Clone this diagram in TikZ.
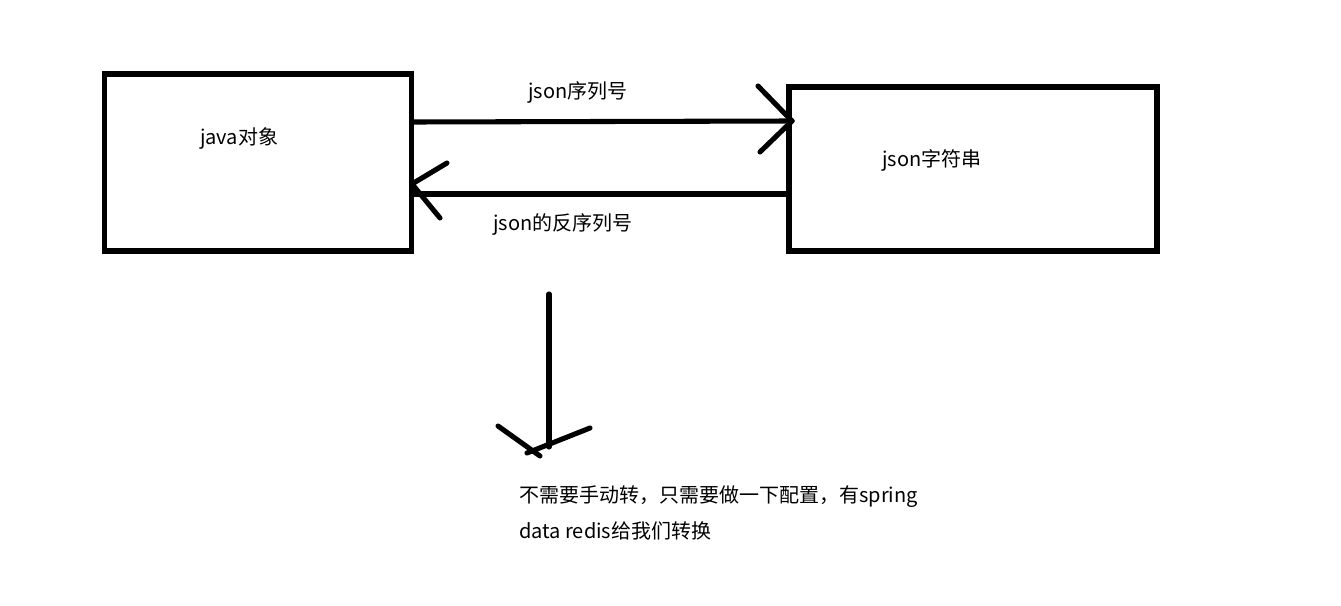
\documentclass[tikz,border=0pt]{standalone}
\usepackage{fontspec}
\setmainfont{Noto Sans CJK SC}
\usetikzlibrary{positioning, calc}

\begin{document}
\begin{tikzpicture}[
    x=0.75pt, y=-0.75pt,
    every node/.style={font=\fontsize{15}{22}\selectfont, inner sep=0pt},
    box/.style={draw, line width=3.8pt, minimum width=307pt*0.75, minimum height=177pt*0.75},
    stroke/.style={line width=3.8pt, line cap=round}
]
    \useasboundingbox (0,0) rectangle (1341,606);

    % Boxes
    \node[box] (obj) at (258,162.5) {};
    \node[box, minimum width=368pt*0.75, minimum height=164pt*0.75] (str) at (973,169) {};
    \node (objlabel) at (239,138) {java对象};
    \node (strlabel) at (932,160) {json字符串};

    % Serialize
    \coordinate (sertip) at (792,121);
    \draw[stroke] (obj.east |- 0,122) -- (sertip);
    \draw[stroke] (sertip) -- ++(-34,-35);
    \draw[stroke] (sertip) -- ++(-32,31);
    \node (serlabel) at (578,92) {json序列号};

    % Deserialize
    \coordinate (destip) at (412,184);
    \draw[stroke] (str.west |- 0,194) -- (obj.east |- 0,194);
    \draw[stroke] (destip) -- ++(35,-21);
    \draw[stroke] (destip) -- ++(28,34);
    \node (deslabel) at (563,224) {json的反序列号};

    % Down arrow and note
    \coordinate (downtop) at (549,294);
    \coordinate (downtip) at (549,447);
    \draw[stroke] (downtop) -- (downtip);
    \draw[stroke] (498,426) -- (540,456);
    \draw[stroke] (590,428) -- (527,453);
    \node[anchor=north west, align=left] (note) at (519,485)
        {不需要手动转，只需要做一下配置，有spring\\[5pt]data redis给我们转换};
\end{tikzpicture}
\end{document}
